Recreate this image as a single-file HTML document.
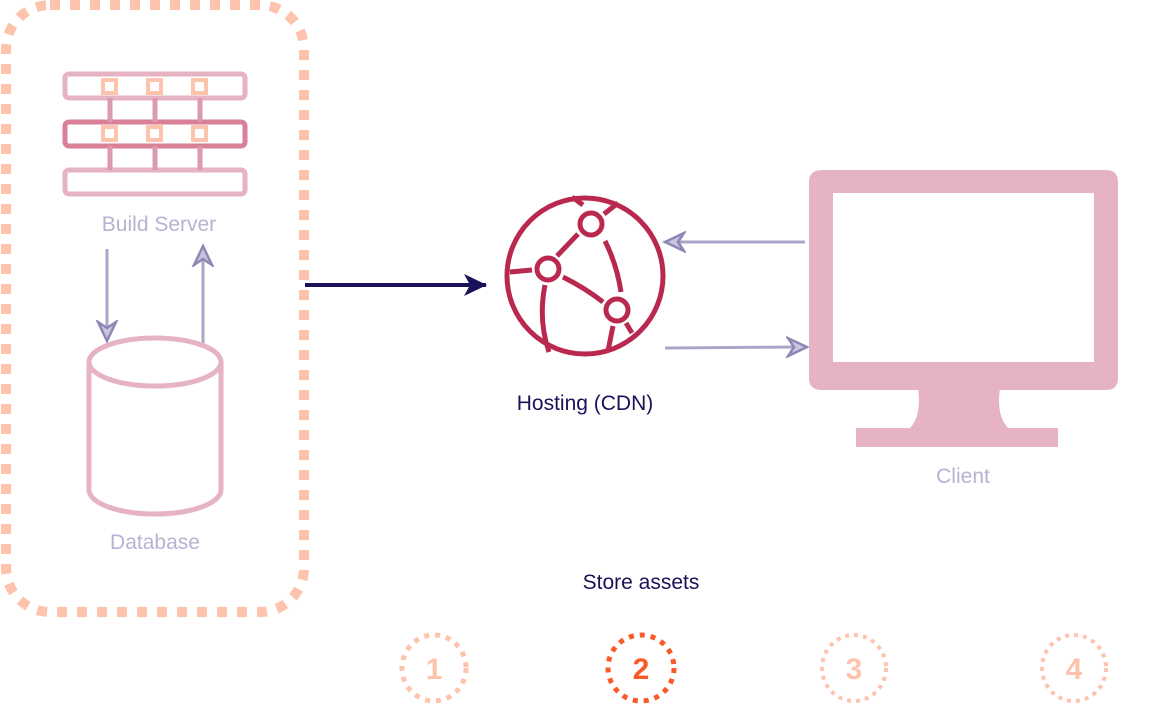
<!DOCTYPE html>
<html><head><style>
body{margin:0;background:#fff;width:1166px;height:704px;overflow:hidden}
svg{display:block}
text{font-family:"Liberation Sans",sans-serif}
</style></head><body>
<svg width="1166" height="704" viewBox="0 0 1166 704">
<defs>
<marker id="ah" markerWidth="24" markerHeight="24" refX="20" refY="12" orient="auto" markerUnits="userSpaceOnUse">
<path d="M2,3 L21,12 L2,21 L8,12 Z" fill="#c9c5de" stroke="#8c88b5" stroke-width="2.5"/>
</marker>
<marker id="ahd" markerWidth="24" markerHeight="24" refX="22" refY="12" orient="auto" markerUnits="userSpaceOnUse">
<path d="M0,1 L23,12 L0,23 L6,12 Z" fill="#1a1258"/>
</marker>
</defs>
<rect x="6" y="5" width="298" height="607" rx="44" fill="none" stroke="#fdc3ad" stroke-width="10" stroke-dasharray="10 10"/>
<g fill="none" stroke="#e6b3c2" stroke-width="5">
<rect x="65" y="74" width="180" height="24" rx="4"/>
<rect x="65" y="170" width="180" height="24" rx="4"/>
<rect x="65" y="122" width="180" height="24" rx="4" stroke="#d97f97"/>
<path d="M110,98V122M155,98V122M200,98V122M110,146V170M155,146V170M200,146V170" stroke="#dc9ab0"/>
</g>
<g fill="#fff" stroke="#fdc3ad" stroke-width="4">
<rect x="103" y="80" width="13" height="13"/><rect x="148" y="80" width="13" height="13"/><rect x="193" y="80" width="13" height="13"/>
<rect x="103" y="127" width="13" height="13"/><rect x="148" y="127" width="13" height="13"/><rect x="193" y="127" width="13" height="13"/>
</g>
<text x="159" y="231" font-size="21" fill="#b8b2d2" text-anchor="middle">Build Server</text>
<line x1="107" y1="249" x2="107" y2="340" stroke="#aba6c9" stroke-width="3" marker-end="url(#ah)"/>
<line x1="203" y1="345" x2="203" y2="247" stroke="#aba6c9" stroke-width="3" marker-end="url(#ah)"/>
<g fill="none" stroke="#e6b3c2" stroke-width="5">
<path d="M89,362 V490 A66,24 0 0 0 221,490 V362"/>
<ellipse cx="155" cy="362" rx="66" ry="24"/>
</g>
<text x="155" y="549" font-size="21" fill="#b8b2d2" text-anchor="middle">Database</text>
<line x1="305" y1="285" x2="486" y2="285" stroke="#1a1258" stroke-width="4" marker-end="url(#ahd)"/>
<g fill="none" stroke="#b9294f" stroke-width="5">
<circle cx="585" cy="276" r="78"/>
<circle cx="591" cy="224" r="11"/>
<circle cx="548" cy="269" r="11"/>
<circle cx="617" cy="310" r="11"/>
<path d="M510,272 L532,270 M563,277 Q585,288 603,302 M557,256 L578,234 M605,241 Q617,265 621,292 M583,205 L572,197 M604,214 L618,203 M545,285 Q538,320 549,352 M613,326 L608,351 M626,323 L632,333"/>
</g>
<text x="585" y="410" font-size="21" fill="#1a1258" text-anchor="middle">Hosting (CDN)</text>
<line x1="805" y1="242" x2="666" y2="242" stroke="#aba6c9" stroke-width="3" marker-end="url(#ah)"/>
<line x1="665" y1="348" x2="806" y2="347" stroke="#aba6c9" stroke-width="3" marker-end="url(#ah)"/>
<g fill="#e6b3c2">
<path fill-rule="evenodd" d="M822,170 H1106 Q1118,170 1118,182 V378 Q1118,390 1106,390 H822 Q809,390 809,378 V182 Q809,170 822,170 Z M833,193 V362 H1094 V193 Z"/>
<path d="M918,388 H1000 Q996,415 1008,428 H910 Q922,415 918,388 Z"/>
<rect x="856" y="428" width="202" height="19"/>
</g>
<text x="963" y="483" font-size="21" fill="#b8b2d2" text-anchor="middle">Client</text>
<text x="641" y="589" font-size="21" fill="#1a1258" text-anchor="middle">Store assets</text>
<g fill="none" stroke-width="5" stroke-dasharray="5 6">
<ellipse cx="434" cy="668" rx="32" ry="33" stroke="#fdc3ad"/>
<ellipse cx="641" cy="668" rx="33" ry="33" stroke="#fa5a28"/>
<ellipse cx="854" cy="668" rx="32" ry="33" stroke="#fdc3ad" stroke-width="4" stroke-dasharray="4 5"/>
<ellipse cx="1074" cy="668" rx="32" ry="33" stroke="#fdc3ad" stroke-width="4" stroke-dasharray="4 5"/>
</g>
<g font-size="30" font-weight="bold" text-anchor="middle">
<text x="434" y="679" fill="#fdc3ad">1</text>
<text x="641" y="679" fill="#fa5a28">2</text>
<text x="854" y="679" fill="#fdc3ad">3</text>
<text x="1074" y="679" fill="#fdc3ad">4</text>
</g>
</svg>
</body></html>
